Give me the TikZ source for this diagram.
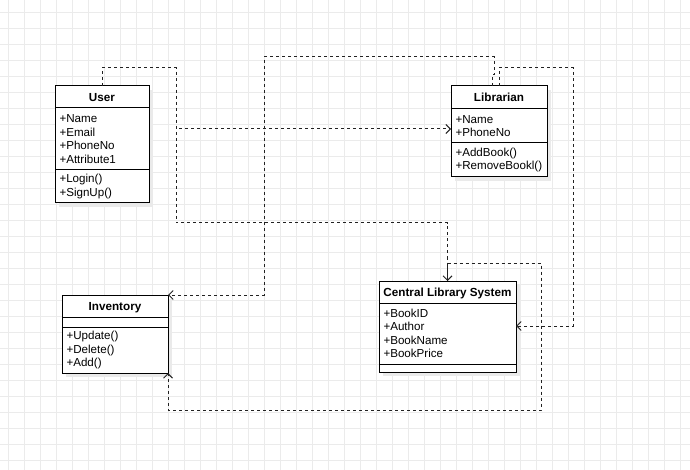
\documentclass[tikz,border=0pt]{standalone}
\usepackage{fontspec}
\setmainfont{Liberation Sans}
\usetikzlibrary{positioning,arrows.meta,fit,shadows,backgrounds}
\definecolor{GridGray}{HTML}{EBEBEB}
\definecolor{LineGray}{HTML}{222222}
\definecolor{ShadowGray}{HTML}{EAEAEA}

\tikzset{
  classhead/.style={draw,line width=1pt,outer sep=0pt,fill=white,font=\fontsize{11.7}{13.5}\selectfont\bfseries,inner sep=0pt,text height=9.2pt,text depth=1pt,minimum height=22pt},
  classpart/.style={draw,line width=1pt,outer sep=0pt,fill=white,align=left,inner xsep=4.5pt,inner ysep=0pt,font=\fontsize{11.6}{13.5}\selectfont},
  classshadow/.style={inner sep=0pt,fill=white,drop shadow={shadow xshift=4pt,shadow yshift=-4pt,fill=ShadowGray,opacity=1}},
  dep/.style={draw=LineGray,line width=1pt,dash pattern=on 3pt off 3pt,-{Straight Barb[length=4.5pt,width=9pt,line width=1pt]}},
}

\begin{document}
\begin{tikzpicture}[x=1pt,y=-1pt]
  \useasboundingbox (0,0) rectangle (690,470);
  \begin{scope}[on background layer]
    \foreach \gx in {8.3,24.3,...,690} \draw[GridGray,line width=1pt] (\gx,0) -- (\gx,470);
    \foreach \gy in {12.7,28.7,...,470} \draw[GridGray,line width=1pt] (0,\gy) -- (690,\gy);
  \end{scope}

  % User
  \node[classhead,anchor=north west,minimum width=94pt] (user) at (55,86) {User};
  \node[classpart,below=0pt of user,text width=85pt,minimum height=62pt] (userattr) {+Name\\+Email\\+PhoneNo\\+Attribute1};
  \node[classpart,below=0pt of userattr,text width=85pt,minimum height=33pt] (usermeth) {+Login()\\+SignUp()};

  % Librarian
  \node[classhead,anchor=north west,minimum width=96pt,minimum height=23pt] (lib) at (451,86) {Librarian};
  \node[classpart,below=0pt of lib,text width=87pt,minimum height=34pt] (libattr) {+Name\\+PhoneNo};
  \node[classpart,below=0pt of libattr,text width=87pt,minimum height=34pt] (libmeth) {+AddBook()\\+RemoveBookl()};

  % Inventory
  \node[classhead,anchor=north west,minimum width=106pt] (inv) at (62,295) {Inventory};
  \node[classpart,below=0pt of inv,text width=97pt,minimum height=10pt] (invattr) {};
  \node[classpart,below=0pt of invattr,text width=97pt,minimum height=46pt] (invmeth) {+Update()\\+Delete()\\+Add()};

  % Central Library System
  \node[classhead,anchor=north west,minimum width=137pt] (cls) at (379,281) {Central Library System};
  \node[classpart,below=0pt of cls,text width=128pt,minimum height=61pt] (clsattr) {+BookID\\+Author\\+BookName\\+BookPrice};
  \node[classpart,below=0pt of clsattr,text width=128pt,minimum height=8pt] (clsmeth) {};

  \begin{scope}[on background layer]
    \foreach \cname/\clast in {user/usermeth,lib/libmeth,inv/invmeth,cls/clsmeth}
      \node[classshadow,fit=(\cname)(\clast)] {};
  \end{scope}

  % dependencies
  \draw[dep] (user.north) |- (176,68) |- ([yshift=-3pt]libattr.west);
  \draw[dep] (user.north) |- (176,68) -- (176,223) -| (cls.north);
  \draw[dep] ([xshift=-7pt]lib.north) -- ++(0,-11) -- ++(2,0) |- (264,57) |- (inv.north east);
  \draw[dep] (lib.north) |- (573,68) |- ([yshift=7.5pt]clsattr.east);
  \draw[dep] (cls.north) |- (541,263) -- (541,410) -| (invmeth.south east);
\end{tikzpicture}
\end{document}
